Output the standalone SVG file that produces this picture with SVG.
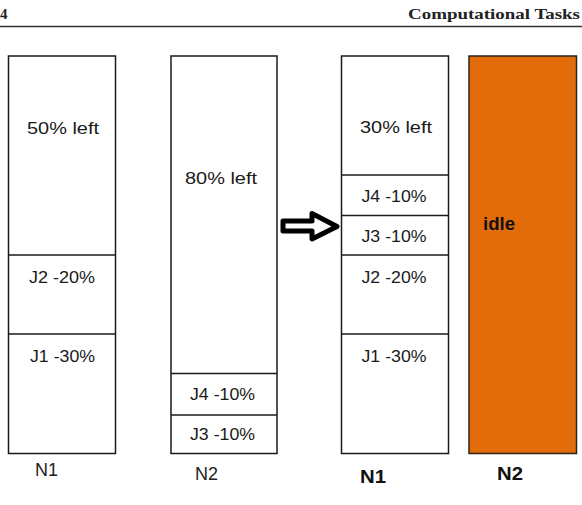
<svg xmlns="http://www.w3.org/2000/svg" width="582" height="505" viewBox="0 0 582 505">
<style>
.box{fill:#fff;stroke:#1a1a1a;stroke-width:1.5}
.div{stroke:#1a1a1a;stroke-width:1.5}
.t{font-family:"Liberation Sans",Arial,sans-serif;font-size:17px;fill:#1a1a1a;text-anchor:middle}
.lab{font-family:"Liberation Sans",Arial,sans-serif;font-size:18px;fill:#222}
.b{font-weight:bold;fill:#111}
.hdr{font-family:"Liberation Serif","Times New Roman",serif;font-size:15px;font-weight:bold;fill:#222}
</style>
<rect width="582" height="505" fill="#fff"/>
<g id="header">
<text class="hdr" x="0" y="19">4</text>
<text class="hdr" x="408" y="19" textLength="172" lengthAdjust="spacingAndGlyphs">Computational Tasks</text>
<line x1="0" y1="26.5" x2="582" y2="26.5" stroke="#333" stroke-width="1.5"/>
</g>
<g id="n1-before">
<rect class="box" x="8.5" y="56" width="107" height="397.5"/>
<line class="div" x1="8.5" y1="255" x2="115.5" y2="255"/>
<line class="div" x1="8.5" y1="334" x2="115.5" y2="334"/>
<text class="t" x="63" y="134" textLength="72" lengthAdjust="spacingAndGlyphs">50% left</text>
<text class="t" x="62" y="283" textLength="66" lengthAdjust="spacingAndGlyphs">J2 -20%</text>
<text class="t" x="62.5" y="361.5" textLength="65" lengthAdjust="spacingAndGlyphs">J1 -30%</text>
<text class="lab" x="35" y="475.5" textLength="23" lengthAdjust="spacingAndGlyphs">N1</text>
</g>
<g id="n2-before">
<rect class="box" x="171" y="56" width="106" height="397.5"/>
<line class="div" x1="171" y1="373.5" x2="277" y2="373.5"/>
<line class="div" x1="171" y1="415" x2="277" y2="415"/>
<text class="t" x="221" y="184" textLength="72" lengthAdjust="spacingAndGlyphs">80% left</text>
<text class="t" x="222.5" y="400" textLength="65" lengthAdjust="spacingAndGlyphs">J4 -10%</text>
<text class="t" x="222.5" y="440" textLength="65" lengthAdjust="spacingAndGlyphs">J3 -10%</text>
<text class="lab" x="195" y="480" textLength="23" lengthAdjust="spacingAndGlyphs">N2</text>
</g>
<g id="n1-after">
<rect class="box" x="341.5" y="56" width="107" height="397.5"/>
<line class="div" x1="341.5" y1="175" x2="448.5" y2="175"/>
<line class="div" x1="341.5" y1="215.5" x2="448.5" y2="215.5"/>
<line class="div" x1="341.5" y1="255" x2="448.5" y2="255"/>
<line class="div" x1="341.5" y1="334" x2="448.5" y2="334"/>
<text class="t" x="396" y="133" textLength="72" lengthAdjust="spacingAndGlyphs">30% left</text>
<text class="t" x="394" y="201.5" textLength="65" lengthAdjust="spacingAndGlyphs">J4 -10%</text>
<text class="t" x="394" y="241.5" textLength="65" lengthAdjust="spacingAndGlyphs">J3 -10%</text>
<text class="t" x="394" y="283" textLength="65" lengthAdjust="spacingAndGlyphs">J2 -20%</text>
<text class="t" x="394" y="361.5" textLength="65" lengthAdjust="spacingAndGlyphs">J1 -30%</text>
<text class="lab b" x="360" y="483" textLength="26" lengthAdjust="spacingAndGlyphs">N1</text>
</g>
<g id="n2-after">
<rect x="469" y="56" width="107.5" height="397.5" fill="#E36C0A" stroke="#2e2218" stroke-width="1.5"/>
<text class="lab b" x="483" y="230" font-size="17" textLength="32" lengthAdjust="spacingAndGlyphs">idle</text>
<text class="lab b" x="497" y="480" textLength="26" lengthAdjust="spacingAndGlyphs">N2</text>
</g>
<g id="connectors">
<path d="M283 221 L312 221 L312 213.5 L337 226.5 L312 239 L312 231 L283 231 Z" fill="#fff" stroke="#000" stroke-width="5" stroke-linejoin="round"/>
</g>
</svg>
